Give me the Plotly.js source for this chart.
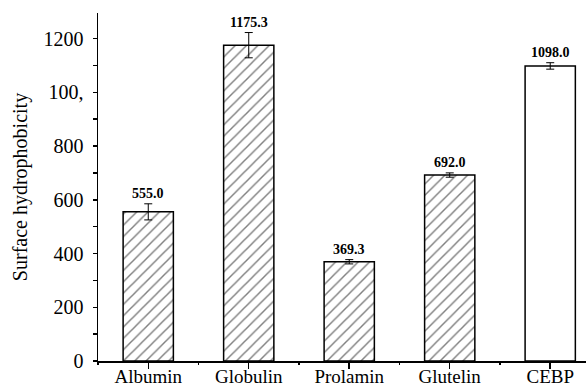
<!DOCTYPE html>
<html>
<head>
<meta charset="utf-8">
<script src="https://cdn.plot.ly/plotly-3.0.1.min.js"></script>
<style>
  html, body { margin: 0; padding: 0; background: #fff; }
  #chart { width: 586px; height: 389px; }
</style>
</head>
<body>
<div id="chart"></div>
<script>
// Protein fractions and their surface hydrophobicity
const categories = ['Albumin', 'Globulin', 'Prolamin', 'Glutelin', 'CEBP'];
const hydrophobicity = [555.0, 1175.3, 369.3, 692.0, 1098.0];
const errors = [30, 47, 8, 8, 12];
const valueLabels = ['555.0', '1175.3', '369.3', '692.0', '1098.0'];
const hatchShapes = ['/', '/', '/', '/', ''];

// y-axis tick labels
const yTickVals = [0, 200, 400, 600, 800, 1000, 1200];
const yTickText = ['0', '200', '400', '600', '800', '100,', '1200'];
const yMinorVals = [100, 300, 500, 700, 900, 1100];

const serif = "'Liberation Serif', 'Times New Roman', serif";

const bars = {
  type: 'bar',
  x: categories,
  y: hydrophobicity,
  width: 0.5,
  marker: {
    color: '#ffffff',
    line: { color: '#000000', width: 1.5 },
    pattern: {
      shape: hatchShapes,
      fgcolor: '#000000',
      bgcolor: '#ffffff',
      size: 8,
      solidity: 0.18,
      fillmode: 'overlay'
    }
  },
  error_y: {
    type: 'data',
    array: errors,
    visible: true,
    color: '#000000',
    thickness: 1,
    width: 4
  },
  hoverinfo: 'x+y'
};

// carrier trace for the boundary-tick axis
const boundaryCarrier = {
  type: 'scatter',
  mode: 'markers',
  x: categories,
  y: hydrophobicity,
  xaxis: 'x2',
  marker: { size: 0, opacity: 0 },
  hoverinfo: 'skip',
  showlegend: false
};

const annotations = categories.map((c, i) => ({
  x: c,
  y: hydrophobicity[i] + errors[i],
  xref: 'x',
  yref: 'y',
  text: '<b>' + valueLabels[i] + '</b>',
  showarrow: false,
  yanchor: 'bottom',
  yshift: 1,
  font: { family: serif, size: 14, color: '#000000' }
}));

const xRange = [-0.5, 4.356];

const layout = {
  width: 586,
  height: 389,
  margin: { l: 98, r: 0, t: 13, b: 28 },
  paper_bgcolor: '#ffffff',
  plot_bgcolor: '#ffffff',
  showlegend: false,
  bargap: 0.5,
  xaxis: {
    type: 'category',
    range: xRange,
    showgrid: false,
    zeroline: false,
    showline: true,
    linecolor: '#000000',
    linewidth: 1.5,
    ticks: 'outside',
    ticklen: 6,
    tickwidth: 1.5,
    tickcolor: '#000000',
    ticklabelstandoff: -8,
    tickfont: { family: serif, size: 19, color: '#000000' },
    fixedrange: true
  },
  xaxis2: {
    type: 'category',
    overlaying: 'x',
    anchor: 'y',
    side: 'bottom',
    range: xRange,
    tickson: 'boundaries',
    ticks: 'outside',
    ticklen: 3,
    tickwidth: 1.5,
    tickcolor: '#000000',
    showticklabels: false,
    showgrid: false,
    zeroline: false,
    showline: false,
    fixedrange: true
  },
  yaxis: {
    range: [0, 1295],
    showgrid: false,
    zeroline: false,
    showline: true,
    linecolor: '#000000',
    linewidth: 1.5,
    ticks: 'outside',
    ticklen: 4,
    tickwidth: 1.5,
    tickcolor: '#000000',
    tickmode: 'array',
    tickvals: yTickVals,
    ticktext: yTickText,
    ticklabelstandoff: 5,
    minor: {
      tickmode: 'array',
      tickvals: yMinorVals,
      ticks: 'outside',
      ticklen: 4,
      tickwidth: 1.5,
      tickcolor: '#000000'
    },
    tickfont: { family: serif, size: 20, color: '#000000' },
    title: {
      text: 'Surface hydrophobicity',
      font: { family: serif, size: 20, color: '#000000' },
      standoff: 10
    },
    fixedrange: true
  },
  annotations: annotations
};

Plotly.newPlot('chart', [bars, boundaryCarrier], layout, { displayModeBar: false, staticPlot: true });
</script>
</body>
</html>
